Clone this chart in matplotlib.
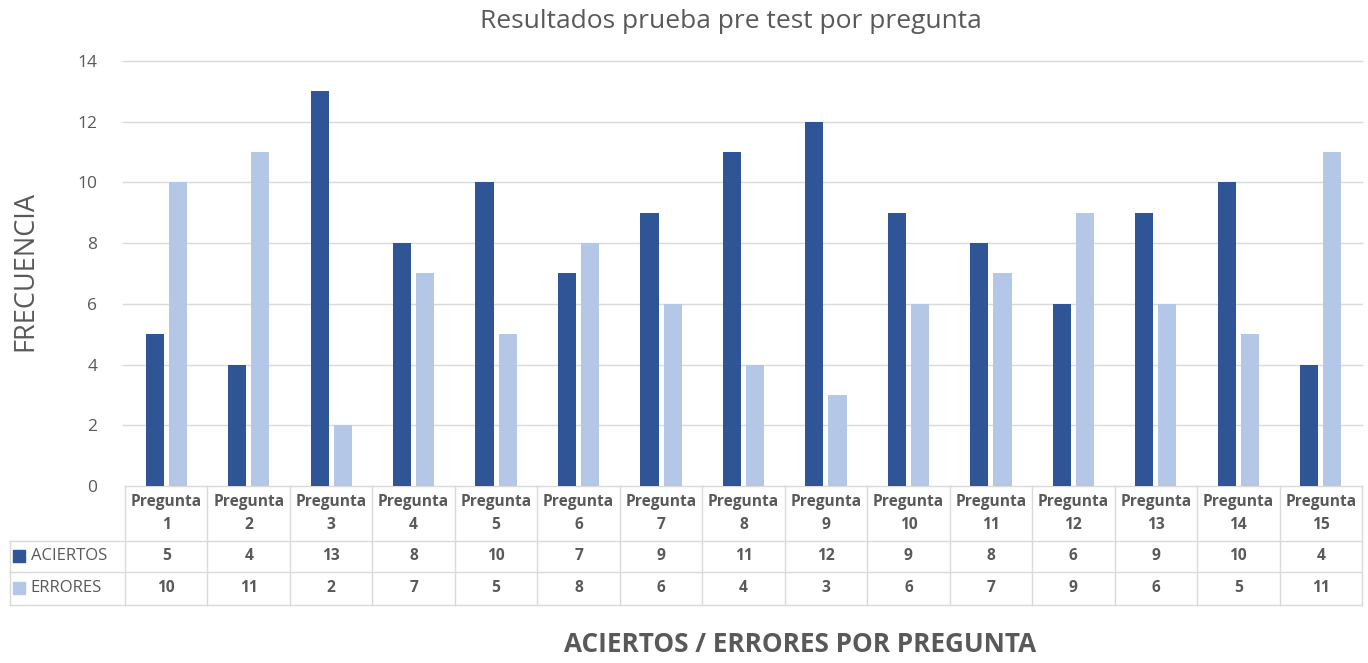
import matplotlib
matplotlib.use("Agg")
import matplotlib.pyplot as plt
from matplotlib.transforms import blended_transform_factory
import numpy as np

categories = [f"Pregunta\n{i}" for i in range(1, 16)]
aciertos = [5, 4, 13, 8, 10, 7, 9, 11, 12, 9, 8, 6, 9, 10, 4]
errores = [10, 11, 2, 7, 5, 8, 6, 4, 3, 6, 7, 9, 6, 5, 11]
series_names = ["ACIERTOS", "ERRORES"]
yticks = [0, 2, 4, 6, 8, 10, 12, 14]

DARK = "#2F5597"
LIGHT = "#B4C7E7"
TXT = "#595959"
GRID = "#D9D9D9"

plt.rcParams['font.family'] = ['Open Sans', 'DejaVu Sans']

fig = plt.figure(figsize=(13.68, 6.63), dpi=100)
ax = fig.add_axes([125/1368, 1 - 486/663, (1362-125)/1368, 425/663])

x = np.arange(len(categories))
w = 0.22
off = 0.14
ax.bar(x - off, aciertos, width=w, color=DARK, zorder=3)
ax.bar(x + off, errores, width=w, color=LIGHT, zorder=3)

ax.set_xlim(-0.5, len(categories) - 0.5)
ax.set_ylim(0, 14)
ax.set_yticks(yticks)
ax.set_yticklabels([str(t) for t in yticks], color=TXT, fontsize=12.5)
ax.tick_params(axis='y', length=0, pad=20)
ax.set_xticks([])
for s in ax.spines.values():
    s.set_visible(False)
for t in yticks[1:]:
    ax.axhline(t, color=GRID, lw=1, xmin=-0.0015, zorder=1, clip_on=False)

# table
tr = blended_transform_factory(ax.transData, ax.transAxes)
rows_y = [0.0, -0.129, -0.202, -0.28]
left_x = -1.894
lkw = dict(color=GRID, lw=1, transform=tr, clip_on=False)
ax.plot([-0.5, 14.5], [rows_y[0]] * 2, **lkw)
for ry in rows_y[1:]:
    ax.plot([left_x, 14.5], [ry] * 2, **lkw)
for i in range(16):
    ax.plot([i - 0.5] * 2, [rows_y[0], rows_y[3]], **lkw)
ax.plot([left_x] * 2, [rows_y[1], rows_y[3]], **lkw)

TFS = 11.2
for i, c in enumerate(categories):
    ax.text(i, (rows_y[0] + rows_y[1]) / 2, c, transform=tr, ha='center', va='center',
            fontsize=TFS, fontweight='bold', color=TXT, linespacing=1.65)
    ax.text(i, (rows_y[1] + rows_y[2]) / 2, str(aciertos[i]), transform=tr, ha='center', va='center',
            fontsize=TFS, fontweight='bold', color=TXT)
    ax.text(i, (rows_y[2] + rows_y[3]) / 2, str(errores[i]), transform=tr, ha='center', va='center',
            fontsize=TFS, fontweight='bold', color=TXT)

for name, col, (ya, yb) in zip(series_names, [DARK, LIGHT], [(rows_y[1], rows_y[2]), (rows_y[2], rows_y[3])]):
    ym = (ya + yb) / 2
    ax.scatter([left_x + 0.11], [ym], marker='s', s=70, color=col, transform=tr, clip_on=False)
    ax.text(left_x + 0.25, ym, name, transform=tr, ha='left', va='center', fontsize=12, color=TXT)

fig.text(731/1368, 1 - 21/663, "Resultados prueba pre test por pregunta", ha='center', va='center',
         fontsize=19, color=TXT)
fig.text(800/1368, 1 - 645/663, "ACIERTOS / ERRORES POR PREGUNTA", ha='center', va='center',
         fontsize=18.8, fontweight='bold', color=TXT)
fig.text(25/1368, 1 - 271/663, "FRECUENCIA", ha='center', va='center', rotation=90,
         fontsize=19.5, color=TXT)

fig.savefig("out.png", dpi=100, facecolor='white')
